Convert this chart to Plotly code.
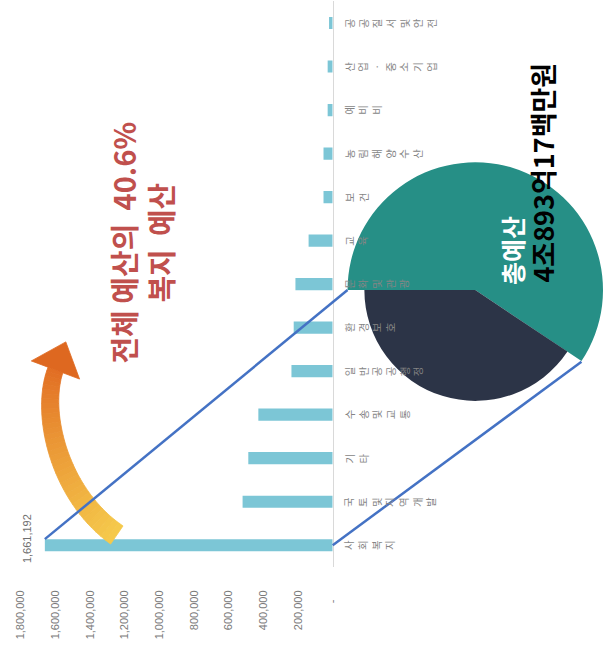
import plotly.graph_objects as go
import numpy as np

W, H = 609, 671

# ---------------- data ----------------
categories = ["사회복지", "국토및지역개발", "기타", "수송및교통", "일반공공행정", "환경보호",
              "문화및관광", "교육", "보건", "농림해양수산", "예비비", "산업·중소기업", "공공질서및안전"]
values = [1661192, 520000, 487000, 429000, 238000, 225000, 215000, 139000,
          53000, 53000, 29000, 29000, 21000]
total_budget = 4089317  # 백만원
x_tickvals = [0, 200000, 400000, 600000, 800000, 1000000, 1200000, 1400000, 1600000, 1800000]
x_ticktext = ["-\u00a0\u00a0\u00a0", "200,000", "400,000", "600,000", "800,000", "1,000,000",
              "1,200,000", "1,400,000", "1,600,000", "1,800,000"]

# ---------------- geometry helpers (pixels -> paper) ----------------
def px(x):
    return x / W

def py(y):
    return 1 - y / H

X_RIGHT = 336.0          # baseline pixel
PX_PER_UNIT = 315.0 / 1800000
XMAX = X_RIGHT / PX_PER_UNIT
Y_TOP, Y_BOT = 1.25, 567.0
n = len(categories)
step = (Y_BOT - Y_TOP) / n
BAR_W = 0.28

def xpix(v):
    return X_RIGHT - v * PX_PER_UNIT

def ypix(i):
    return Y_BOT - (i + 0.5) * step

fig = go.Figure()

fig.add_trace(go.Bar(
    orientation="h", x=values, y=categories, width=BAR_W,
    marker=dict(color="#7cc6d6", line=dict(width=0)),
    hoverinfo="skip", xaxis="x", yaxis="y",
))

# pie: larger teal slice, smaller dark slice
share = values[0] / total_budget
cx, cy = 480.0, 290.0
R_OUT, R_IN = 129.0, 112.0
pie_vals = [values[0], total_budget - values[0]]
for r, cols in [(R_OUT, ["rgba(0,0,0,0)", "#268f86"]), (R_IN, ["#2c3447", "rgba(0,0,0,0)"])]:
    fig.add_trace(go.Pie(
        values=pie_vals, labels=["복지", "기타"], sort=False, direction="clockwise",
        rotation=270 - 360 * share, textinfo="none", hoverinfo="skip", showlegend=False,
        marker=dict(colors=cols, line=dict(width=0)),
        domain=dict(x=[px(cx - r), min(1, px(cx + r))], y=[py(cy + r), py(cy - r)]),
    ))

shapes = []

# curved gradient arrow (decoration)
P0 = np.array([118.0, 535.0]); P1 = np.array([60.0, 495.0])
P2 = np.array([40.0, 413.0]); P3 = np.array([56.0, 370.0])

def bez(t):
    return ((1 - t) ** 3) * P0 + 3 * ((1 - t) ** 2) * t * P1 + 3 * (1 - t) * t * t * P2 + t ** 3 * P3

def bezd(t):
    return 3 * ((1 - t) ** 2) * (P1 - P0) + 6 * (1 - t) * t * (P2 - P1) + 3 * t * t * (P3 - P2)

c_tail = np.array([246, 203, 76]); c_head = np.array([226, 110, 36])
N = 36
for i in range(N):
    t0, t1 = i / N, (i + 1) / N
    pts = []
    for t in (t0, t1):
        p = bez(t); d = bezd(t); d = d / np.linalg.norm(d)
        nrm = np.array([-d[1], d[0]])
        w = 22 - 6 * t
        pts.append((p + nrm * w / 2, p - nrm * w / 2))
    a, b = pts[0]; c, e = pts[1]
    col = c_tail + (c_head - c_tail) * ((t0 + t1) / 2)
    colstr = "rgb(%d,%d,%d)" % tuple(col.astype(int))
    path = "M %f,%f L %f,%f L %f,%f L %f,%f Z" % (px(a[0]), py(a[1]), px(c[0]), py(c[1]),
                                                   px(e[0]), py(e[1]), px(b[0]), py(b[1]))
    shapes.append(dict(type="path", path=path, xref="paper", yref="paper",
                       fillcolor=colstr, line=dict(color=colstr, width=0.8)))
d = bezd(1.0); d = d / np.linalg.norm(d); nrm = np.array([-d[1], d[0]])
tip = P3 + d * 30; w1 = P3 + nrm * 26; w2 = P3 - nrm * 26
shapes.append(dict(type="path", xref="paper", yref="paper",
                   path="M %f,%f L %f,%f L %f,%f Z" % (px(w1[0]), py(w1[1]), px(tip[0]), py(tip[1]), px(w2[0]), py(w2[1])),
                   fillcolor="rgb(222,104,32)", line=dict(color="rgb(222,104,32)", width=0.8)))

# connector lines
ang = np.deg2rad(180 - 360 * share)
end2 = (cx + R_OUT * np.cos(ang), cy + R_OUT * np.sin(ang))
shapes.append(dict(type="line", xref="paper", yref="paper",
                   x0=px(xpix(values[0])), y0=py(ypix(0) - BAR_W * step / 2),
                   x1=px(cx - R_OUT), y1=py(cy), line=dict(color="#4472c4", width=2.5)))
shapes.append(dict(type="line", xref="paper", yref="paper",
                   x0=px(X_RIGHT), y0=py(ypix(0)),
                   x1=px(end2[0]), y1=py(end2[1]), line=dict(color="#4472c4", width=2.5)))

annotations = []
for cat in categories:
    annotations.append(dict(
        x=0, y=cat, xref="x", yref="y", text="<br>".join(list(cat)), textangle=-90,
        xanchor="left", yanchor="middle", xshift=7, showarrow=False,
        font=dict(size=10.5, color="#858585", family="Noto Sans CJK KR")))

annotations.append(dict(
    x=values[0], y=categories[0], xref="x", yref="y", text=f"{values[0]:,}", textangle=-90,
    xanchor="right", yanchor="middle", xshift=-10, yshift=7, showarrow=False,
    font=dict(size=11, color="#6f6f6f", family="Liberation Sans")))

annotations.append(dict(
    x=px(143), y=py(243), xref="paper", yref="paper",
    text=f"<b>전체\u00a0예산의\u00a0\u00a0{share * 100:.1f}%</b><br><b>복지\u00a0\u00a0예산</b>",
    textangle=-90, showarrow=False, xanchor="center", yanchor="middle",
    font=dict(size=29, color="#c0504d", family="Noto Sans CJK KR")))

annotations.append(dict(
    x=px(517), y=py(250), xref="paper", yref="paper", text="<b>총예산</b>",
    textangle=-90, showarrow=False, xanchor="center", yanchor="middle",
    font=dict(size=25, color="white", family="Noto Sans CJK KR")))

jo = total_budget // 1000000
rem = total_budget % 1000000
eok, bm = rem // 100, rem % 100
annotations.append(dict(
    x=px(547), y=py(173), xref="paper", yref="paper", text=f"<b>{jo}조{eok}억{bm}백만원</b>",
    textangle=-90, showarrow=False, xanchor="center", yanchor="middle",
    font=dict(size=27, color="black", family="Noto Sans CJK KR")))

fig.update_layout(
    width=W, height=H, margin=dict(l=0, r=0, t=0, b=0),
    paper_bgcolor="white", plot_bgcolor="rgba(0,0,0,0)", showlegend=False,
    xaxis=dict(domain=[0, px(X_RIGHT)], range=[XMAX, 0], tickvals=x_tickvals, ticktext=x_ticktext,
               tickangle=-90, tickfont=dict(size=11, color="#7a7a7a", family="Liberation Sans"),
               showgrid=False, zeroline=False, showline=False, ticks="outside", ticklen=18,
               tickcolor="rgba(0,0,0,0)", fixedrange=True),
    yaxis=dict(domain=[py(Y_BOT), py(Y_TOP)], type="category", categoryorder="array",
               categoryarray=categories, range=[-0.5, n - 0.5], showticklabels=False,
               showline=True, linecolor="#d9d9d9", linewidth=1, side="right",
               showgrid=False, zeroline=False, ticks="", fixedrange=True),
    shapes=shapes, annotations=annotations,
)

fig.write_html("out.html")
